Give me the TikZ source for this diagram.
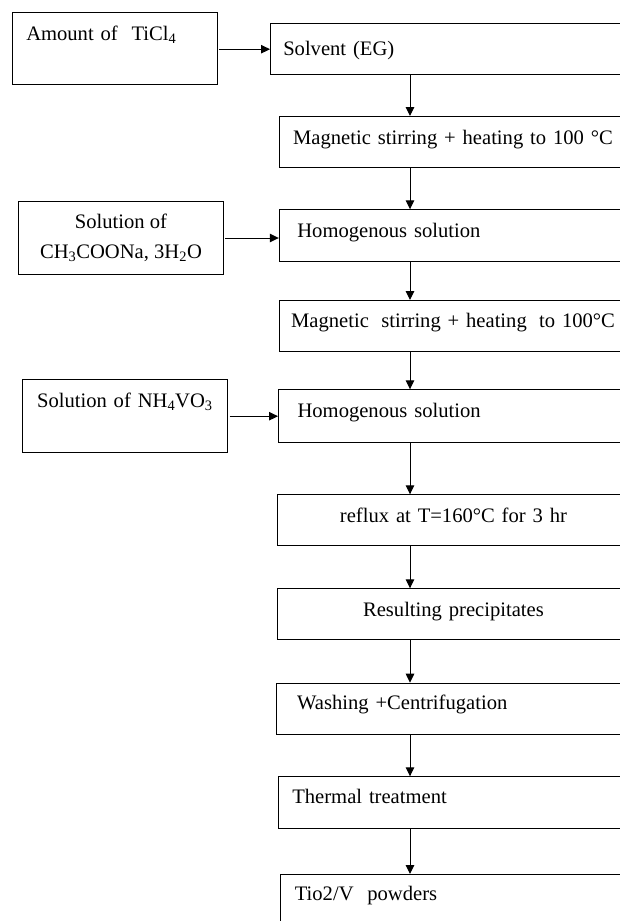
\documentclass[tikz,border=0pt]{standalone}
\usepackage{fontspec}
\setmainfont{Liberation Serif}
\usetikzlibrary{arrows.meta}
\begin{document}
\begin{tikzpicture}[x=1pt,y=-1pt,
  every node/.style={font=\fontsize{20.6pt}{30pt}\selectfont},
  box/.style={draw, line width=1.1pt, anchor=north west, inner ysep=0pt, align=left},
  cbox/.style={box, align=center},
  arr/.style={line width=1pt, -{Triangle[length=9pt,width=8.5pt]}}]
  % page frame
  \path[use as bounding box] (0,0) rectangle (620,921);
  \clip (0,0) rectangle (620,921);
  % x position of the main vertical flow arrows
  \coordinate (ax) at (410,0);

  % side inputs
  \node[box, inner xsep=13.8pt, text width=177.2pt, text height=27.7pt, text depth=44pt]
    (tic) at (11.9,12.3) {Amount~of\ \ TiCl\textsubscript{4}};
  \node[cbox, anchor=center, inner sep=0pt, minimum width=204.8pt, minimum height=72.6pt]
    (ch3) at (121,238) {Solution of\\CH\textsubscript{3}COONa, 3H\textsubscript{2}O};
  \node[box, inner xsep=14.5pt, text width=176pt, text height=28pt, text depth=44.7pt]
    (nh4) at (22,379.3) {Solution~of~NH\textsubscript{4}VO\textsubscript{3}};

  % main process column
  \node[box, inner xsep=12.7pt, text width=354.6pt, text height=31.7pt, text depth=19pt]
    (solv) at (270,23.3) {Solvent (EG)};
  \node[box, inner xsep=13.8pt, text width=343.6pt, text height=28pt, text depth=23.3pt]
    (mag1) at (278.8,116) {Magnetic stirring + heating to 100 °C};
  \node[box, inner xsep=18pt, text width=335.2pt, text height=28pt, text depth=23.4pt]
    (hom1) at (278.8,209.3) {Homogenous solution};
  \node[box, inner xsep=11.8pt, text width=347.6pt, text height=26.7pt, text depth=24pt]
    (mag2) at (278.8,300)
    {Magnetic\hspace{0.6em}stirring + heating\hspace{0.6em}to 100°C};
  \node[box, inner xsep=19pt, text width=334pt, text height=27.4pt, text depth=25pt]
    (hom2) at (278,389.3) {Homogenous solution};
  \node[cbox, inner xsep=10pt, text width=332.2pt, text height=27.4pt, text depth=23.6pt]
    (refl) at (276.8,494.3) {reflux at T=160°C for 3 hr};
  \node[cbox, inner xsep=10pt, text width=332.2pt, text height=27.7pt, text depth=23.3pt]
    (res) at (276.8,588.3) {Resulting precipitates};
  \node[box, inner xsep=21pt, text width=332.4pt, text height=26.7pt, text depth=24.6pt]
    (wash) at (275.6,682.7) {Washing +Centrifugation};
  \node[box, inner xsep=13.8pt, text width=344.4pt, text height=27pt, text depth=24.4pt]
    (therm) at (278,776.3) {Thermal treatment};
  \node[box, inner xsep=14.8pt, text width=340.9pt, text height=26pt, text depth=34pt]
    (tio) at (279.5,874) {Tio2/V\ \ powders};

  % side inputs feeding the column
  \draw[arr] ([xshift=1.5pt]tic.east |- solv.west) -- (solv.west);
  \draw[arr] ([xshift=1.2pt]ch3.east) -- (ch3.east -| hom1.west);
  \draw[arr] ([xshift=1.5pt]nh4.east) -- (nh4.east -| hom2.west);

  % downward flow
  \draw[arr] (solv.south -| ax) -- (mag1.north -| ax);
  \draw[arr] (mag1.south -| ax) -- (hom1.north -| ax);
  \draw[arr] (hom1.south -| ax) -- (mag2.north -| ax);
  \draw[arr] (mag2.south -| ax) -- (hom2.north -| ax);
  \draw[arr] (hom2.south -| ax) -- (refl.north -| ax);
  \draw[arr] (refl.south -| ax) -- (res.north -| ax);
  \draw[arr] (res.south -| ax) -- (wash.north -| ax);
  \draw[arr] (wash.south -| ax) -- (therm.north -| ax);
  \draw[arr] (therm.south -| ax) -- (tio.north -| ax);
\end{tikzpicture}
\end{document}
